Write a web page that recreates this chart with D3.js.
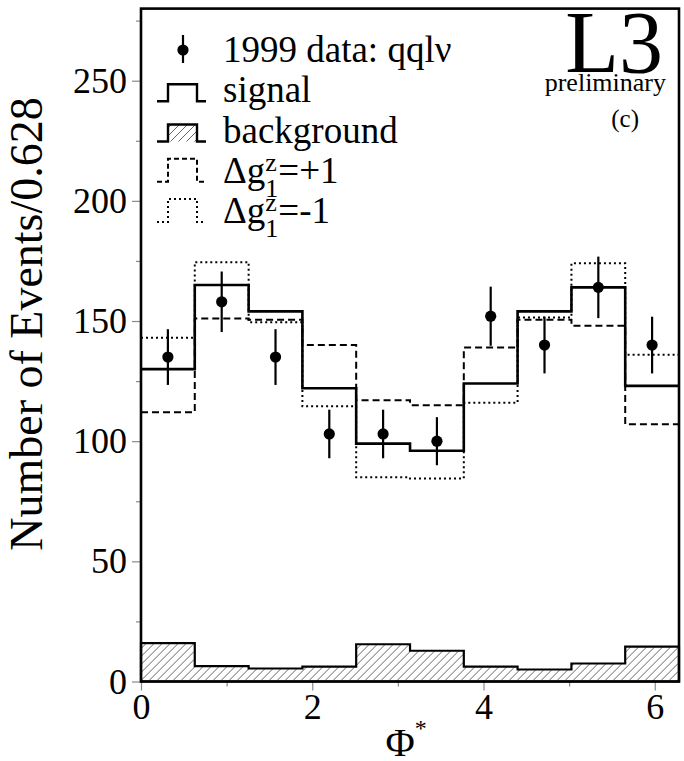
<!DOCTYPE html>
<html>
<head>
<meta charset="utf-8">
<script src="https://cdn.jsdelivr.net/npm/d3@7"></script>
<style>
  html, body { margin: 0; padding: 0; background: #fff; }
  svg { display: block; }
  svg text { font-family: 'Liberation Serif', 'Times New Roman', Times, serif; }
</style>
</head>
<body>
<svg id="chart"></svg>
<script>
// Phi* distribution, 10 bins of width 0.628
const binEdges = [0, 0.628, 1.257, 1.885, 2.513, 3.142, 3.770, 4.398, 5.027, 5.655, 6.283];
const dataCounts = [135, 158, 135, 103, 103, 100, 152, 140, 164, 140];
const dataErrors = [11.6, 12.6, 11.6, 10.1, 10.1, 10.0, 12.3, 11.8, 12.8, 11.8];
const signal = [130, 165, 154, 122, 99, 96, 124, 154, 164, 123];
const dgPlus = [112, 151, 150.5, 140, 117, 115, 139, 150.5, 148, 107];
const dgMinus = [143, 174.5, 149.5, 114.5, 85, 84.5, 116, 151.5, 174, 136];
const background = [16, 6.4, 5.4, 6.2, 15.5, 12.8, 6.2, 5.0, 7.5, 14.5];

const yMajor = [0, 50, 100, 150, 200, 250];
const yMinor = [25, 75, 125, 175, 225, 275];
const xMajor = [0, 2, 4, 6];
const xMinor = [1, 3, 5];

const width = 684, height = 761;
const margin = { top: 8.6, right: 5, bottom: 79.5, left: 141 };
const innerWidth = width - margin.left - margin.right;
const innerHeight = height - margin.top - margin.bottom;

const svg = d3.select('#chart')
  .attr('width', width)
  .attr('height', height)
  .attr('viewBox', `0 0 ${width} ${height}`);

const defs = svg.append('defs');
defs.append('pattern')
  .attr('id', 'hatch')
  .attr('patternUnits', 'userSpaceOnUse')
  .attr('width', 8).attr('height', 8)
  .append('path')
  .attr('d', 'M-2,2 L2,-2 M0,8 L8,0 M6,10 L10,6')
  .attr('stroke', '#555')
  .attr('stroke-width', 0.9);

const x = d3.scaleLinear().domain([0, 2 * Math.PI]).range([0, innerWidth]);
const y = d3.scaleLinear().domain([0, 280]).range([innerHeight, 0]);

const g = svg.append('g').attr('transform', `translate(${margin.left}, ${margin.top})`);

// step outline for a histogram
function steps(vals) {
  const pts = [];
  vals.forEach((v, i) => { pts.push([binEdges[i], v]); pts.push([binEdges[i + 1], v]); });
  return pts;
}
const line = d3.line().x(d => x(d[0])).y(d => y(d[1]));

// Axes: minor ticks first, then labelled majors
const tickColor = '#8a8a8a';
function styleAxis(sel) {
  sel.select('.domain').remove();
  sel.selectAll('line').attr('stroke', tickColor).attr('stroke-width', 1.2);
  sel.selectAll('text').attr('font-size', 36).attr('fill', '#000');
}
g.append('g').attr('transform', `translate(0, ${innerHeight})`)
  .call(d3.axisBottom(x).tickValues(xMinor).tickSize(5).tickFormat(''))
  .call(styleAxis);
g.append('g').attr('transform', `translate(0, ${innerHeight})`)
  .call(d3.axisBottom(x).tickValues(xMajor).tickSize(9).tickPadding(3).tickFormat(d3.format('d')))
  .call(styleAxis);
g.append('g')
  .call(d3.axisLeft(y).tickValues(yMinor).tickSize(5).tickFormat(''))
  .call(styleAxis);
g.append('g')
  .call(d3.axisLeft(y).tickValues(yMajor).tickSize(9).tickPadding(5).tickFormat(d3.format('d')))
  .call(styleAxis);

// Background (hatched)
const bgPts = [[0, 0], ...steps(background), [binEdges[binEdges.length - 1], 0]];
g.append('path')
  .attr('d', line(bgPts) + 'Z')
  .attr('fill', 'url(#hatch)')
  .attr('stroke', '#000')
  .attr('stroke-width', 2.2);

// Anomalous coupling variations
g.append('path')
  .attr('d', line(steps(dgMinus)))
  .attr('fill', 'none').attr('stroke', '#000')
  .attr('stroke-width', 2).attr('stroke-dasharray', '2 3');
g.append('path')
  .attr('d', line(steps(dgPlus)))
  .attr('fill', 'none').attr('stroke', '#000')
  .attr('stroke-width', 2).attr('stroke-dasharray', '7 4');

// Signal
g.append('path')
  .attr('d', line(steps(signal)))
  .attr('fill', 'none').attr('stroke', '#000')
  .attr('stroke-width', 2.6);

// Data points with error bars
dataCounts.forEach((v, i) => {
  const cx = x((binEdges[i] + binEdges[i + 1]) / 2);
  g.append('line')
    .attr('x1', cx).attr('x2', cx)
    .attr('y1', y(v - dataErrors[i])).attr('y2', y(v + dataErrors[i]))
    .attr('stroke', '#000').attr('stroke-width', 2.2);
  g.append('circle')
    .attr('cx', cx).attr('cy', y(v)).attr('r', 5.6)
    .attr('fill', '#000');
});

// Frame
g.append('rect')
  .attr('x', 0).attr('y', 0)
  .attr('width', innerWidth).attr('height', innerHeight)
  .attr('fill', 'none').attr('stroke', '#000').attr('stroke-width', 2.6);

// Axis titles
svg.append('text')
  .attr('transform', 'translate(42, 324) rotate(-90)')
  .attr('text-anchor', 'middle')
  .attr('font-size', 46)
  .text('Number of Events/0.628');

const xt = svg.append('text')
  .attr('x', 406).attr('y', 756)
  .attr('text-anchor', 'middle')
  .attr('font-size', 40);
xt.append('tspan').text('Φ');
xt.append('tspan').attr('font-size', 24).attr('dy', -20).text('*');

// L3 logo
svg.append('text').attr('x', 663).attr('y', 72)
  .attr('text-anchor', 'end').attr('font-size', 88).text('L3');
svg.append('text').attr('x', 666).attr('y', 91)
  .attr('text-anchor', 'end').attr('font-size', 26).text('preliminary');
svg.append('text').attr('x', 639).attr('y', 127)
  .attr('text-anchor', 'end').attr('font-size', 25).text('(c)');

// Legend
const legendLabels = ['1999 data: qqlν', 'signal', 'background', '+1', '-1'];
const legendKinds = ['data', 'solid', 'hatch', 'dashed', 'dotted'];
const legendX = 223;
const legend = svg.append('g');
legendLabels.forEach((label, i) => {
  const base = 62 + i * 40.25;
  const kind = legendKinds[i];
  if (kind === 'data') {
    legend.append('line').attr('x1', 183).attr('x2', 183)
      .attr('y1', base - 27).attr('y2', base + 1)
      .attr('stroke', '#000').attr('stroke-width', 2.2);
    legend.append('circle').attr('cx', 183).attr('cy', base - 12).attr('r', 5.6).attr('fill', '#000');
  } else {
    const top = kind === 'dashed' || kind === 'dotted' ? base - 24 : base - 18;
    const bot = base - 1;
    const d = `M157,${bot} H168 V${top} H197 V${bot} H206`;
    if (kind === 'hatch') {
      legend.append('rect').attr('x', 168).attr('y', top)
        .attr('width', 29).attr('height', bot - top).attr('fill', 'url(#hatch)');
    }
    legend.append('path').attr('d', d).attr('fill', 'none').attr('stroke', '#000')
      .attr('stroke-width', kind === 'solid' || kind === 'hatch' ? 2.4 : 2)
      .attr('stroke-dasharray', kind === 'dashed' ? '5 3' : kind === 'dotted' ? '2 3' : null);
  }
  if (kind === 'dashed' || kind === 'dotted') {
    const t = legend.append('text').attr('x', legendX).attr('y', base).attr('font-size', 37).text('Δg');
    const w = t.node().getComputedTextLength();
    legend.append('text').attr('x', legendX + w).attr('y', base - 12).attr('font-size', 26).text('z');
    legend.append('text').attr('x', legendX + w).attr('y', base + 14).attr('font-size', 26).text('1');
    legend.append('text').attr('x', legendX + w + 13).attr('y', base).attr('font-size', 37).text('=' + label);
  } else {
    legend.append('text').attr('x', legendX).attr('y', base).attr('font-size', 37).text(label);
  }
});
</script>
</body>
</html>
